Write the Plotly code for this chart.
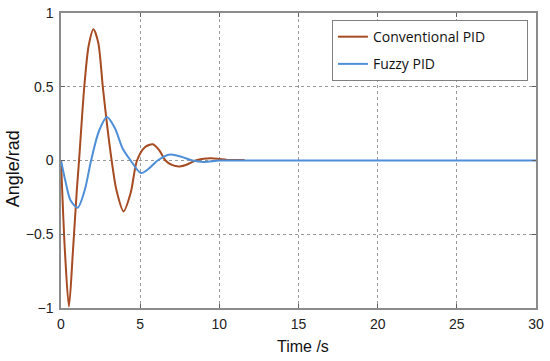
import plotly.graph_objects as go

# Conventional PID response
conv_t = [0, 0.25, 0.5, 0.75, 1.0, 1.14, 1.47, 1.75, 2.05, 2.35, 2.64, 2.9, 3.2, 3.5, 3.95,
          4.4, 4.8, 5.3, 5.8, 6.2, 6.6, 7.0, 7.5, 8.0, 8.5, 9.0, 9.5, 10.0, 10.5, 11.0, 11.6]
conv_v = [0, -0.62, -0.99, -0.62, -0.2, 0, 0.5, 0.78, 0.89, 0.8, 0.5, 0.25, 0, -0.2, -0.345,
          -0.22, 0, 0.09, 0.11, 0.07, 0, -0.03, -0.04, -0.025, 0, 0.012, 0.015, 0.01, 0.004, 0.003, 0.003]

# Fuzzy PID response
fuzzy_t = [0, 0.3, 0.6, 1.05, 1.5, 1.9, 2.4, 2.9, 3.4, 3.9, 4.4, 5.05, 5.6, 6.1, 6.9,
           7.6, 8.3, 9.0, 10, 11, 12, 30]
fuzzy_v = [0, -0.15, -0.27, -0.32, -0.2, 0, 0.2, 0.295, 0.22, 0.08, 0, -0.085, -0.05, 0, 0.04,
           0.025, 0, -0.01, 0, 0, 0, 0]

x_ticks = [0, 5, 10, 15, 20, 25, 30]
y_ticks = [-1, -0.5, 0, 0.5, 1]
y_tick_labels = ["\u22121", "\u22120.5", "0", "0.5", "1"]

pad = "\u00a0" * 10

fig = go.Figure()
fig.add_trace(go.Scatter(x=conv_t, y=conv_v, mode="lines", name="Conventional PID" + pad,
                         legendgroup="a",
                         line=dict(color="#A64B22", width=2, shape="spline", smoothing=0.8)))
fig.add_trace(go.Scatter(x=fuzzy_t, y=fuzzy_v, mode="lines", name="Fuzzy PID",
                         legendgroup="b",
                         line=dict(color="#4F8FD8", width=2, shape="spline", smoothing=0.8)))

tick_font = dict(family="Liberation Sans, Arial", size=14, color="#222")
axis_common = dict(showline=True, linecolor="#8c8c8c", linewidth=1.5, mirror="ticks",
                   ticks="inside", ticklen=4, tickcolor="#606060",
                   showgrid=True, gridcolor="#999999", griddash="dot", gridwidth=1,
                   zeroline=False, tickfont=tick_font, automargin=False)

fig.update_layout(
    width=550, height=361,
    margin=dict(l=61, r=14, t=13, b=53),
    paper_bgcolor="white", plot_bgcolor="white",
    xaxis=dict(range=[0, 30], tickvals=x_ticks, ticklabelstandoff=2, **axis_common),
    yaxis=dict(range=[-1, 1], tickvals=y_ticks, ticktext=y_tick_labels, ticklabelstandoff=3,
               **axis_common),
    legend=dict(x=0.983, y=0.976, xanchor="right", yanchor="top",
                bordercolor="#808080", borderwidth=1, bgcolor="white",
                traceorder="grouped", tracegroupgap=6,
                font=dict(family="Open Sans, sans-serif", size=14, color="#111")),
    showlegend=True,
    annotations=[
        dict(text="Time /s", xref="paper", yref="paper", x=(303 - 61) / 475, y=-0.13,
             xanchor="center", yanchor="middle", showarrow=False,
             font=dict(family="Liberation Sans, Arial", size=16, color="#111")),
        dict(text="Angle/rad", xref="paper", yref="paper", x=-(61 - 13) / 475, y=0.47,
             xanchor="center", yanchor="middle", showarrow=False, textangle=-90,
             font=dict(family="Liberation Sans, Arial", size=18, color="#111")),
    ],
)

fig.write_html("out.html", config={"displayModeBar": False},
               post_script="document.body.style.margin='0';")
